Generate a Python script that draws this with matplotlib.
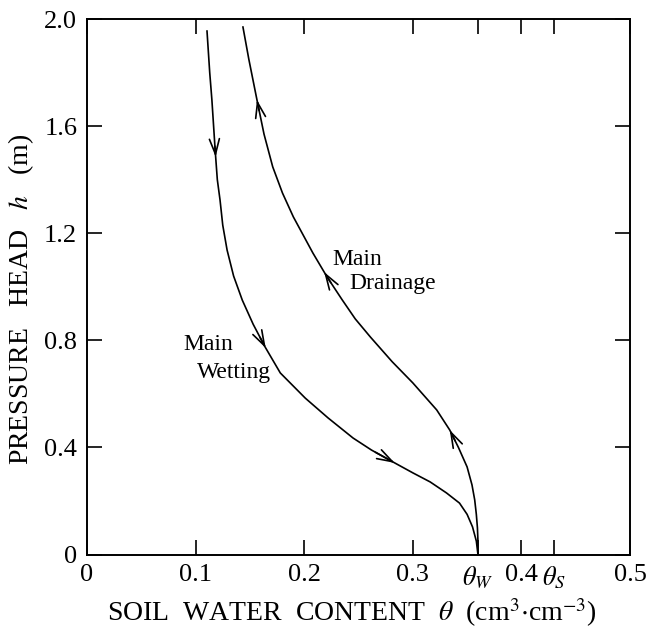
import numpy as np
import matplotlib
matplotlib.use("Agg")
import matplotlib.pyplot as plt

plt.rcParams["font.family"] = ["Liberation Serif", "DejaVu Serif"]
plt.rcParams["mathtext.fontset"] = "stix"

# Main wetting curve: soil water content (cm3/cm3) vs pressure head (m)
wet_theta = [0.1105, 0.113, 0.115, 0.118, 0.120, 0.1225, 0.125, 0.129, 0.135,
             0.143, 0.153, 0.164, 0.178, 0.201, 0.222, 0.245, 0.262, 0.282,
             0.300, 0.316, 0.331, 0.343, 0.350, 0.355, 0.3585, 0.360]
wet_h = [1.955, 1.80, 1.698, 1.511, 1.40, 1.324, 1.23, 1.137, 1.04,
         0.950, 0.86, 0.775, 0.678, 0.584, 0.51, 0.435, 0.39, 0.345,
         0.305, 0.271, 0.23, 0.192, 0.15, 0.103, 0.05, 0.0]

# Main drainage curve
dry_theta = [0.1436, 0.149, 0.1565, 0.163, 0.171, 0.180, 0.190, 0.208, 0.221,
             0.235, 0.247, 0.261, 0.281, 0.300, 0.322, 0.334, 0.342, 0.350,
             0.3545, 0.357, 0.3585, 0.3595, 0.360, 0.360]
dry_h = [1.970, 1.85, 1.698, 1.57, 1.448, 1.35, 1.261, 1.126, 1.037,
         0.951, 0.88, 0.812, 0.72, 0.641, 0.540, 0.465, 0.40, 0.327,
         0.26, 0.204, 0.15, 0.10, 0.05, 0.0]

# Direction markers (pressure head at the arrow tip)
wet_arrow_h = [1.485, 0.771, 0.342]
dry_arrow_h = [1.698, 1.055, 0.465]

theta_w = 0.36
theta_s = 0.43
xtick_vals = [0, 0.1, 0.2, 0.3, theta_w, 0.4, theta_s, 0.5]
xtick_labels = ["0", "0.1", "0.2", "0.3", r"$\theta_W$", "0.4", r"$\theta_S$", "0.5"]
ytick_vals = [0, 0.4, 0.8, 1.2, 1.6, 2.0]
ytick_labels = ["0", "0.4", "0.8", "1.2", "1.6", "2.0"]

fig = plt.figure(figsize=(6.46, 6.31), dpi=100)
ax = fig.add_axes([87 / 646, 1 - 554.5 / 631, 543 / 646, 535.5 / 631])

ax.plot(wet_theta, wet_h, color="black", lw=1.2)
ax.plot(dry_theta, dry_h, color="black", lw=1.2)


def theta_on(curve_theta, curve_h, h):
    order = np.argsort(curve_h)
    return np.interp(h, np.asarray(curve_h)[order], np.asarray(curve_theta)[order])


arrow_kw = dict(arrowstyle="->,head_length=1.1,head_width=0.36",
                color="black", lw=1.2, mutation_scale=10,
                shrinkA=0, shrinkB=0)

# wetting proceeds toward lower suction (downwards)
for h in wet_arrow_h:
    tip = (theta_on(wet_theta, wet_h, h), h)
    tail = (theta_on(wet_theta, wet_h, h + 0.04), h + 0.04)
    ax.annotate("", xy=tip, xytext=tail, arrowprops=arrow_kw)

# drainage proceeds toward higher suction (upwards)
for h in dry_arrow_h:
    tip = (theta_on(dry_theta, dry_h, h), h)
    tail = (theta_on(dry_theta, dry_h, h - 0.04), h - 0.04)
    ax.annotate("", xy=tip, xytext=tail, arrowprops=arrow_kw)

ax.text(0.0884, 0.764, "Main", fontsize=17, va="baseline", ha="left")
ax.text(0.1013, 0.659, "Wetting", fontsize=17, va="baseline", ha="left")
ax.text(0.2256, 1.081, "Main", fontsize=17, va="baseline", ha="left")
ax.text(0.242, 0.99, "Drainage", fontsize=17, va="baseline", ha="left")

ax.set_xlim(0, 0.5)
ax.set_ylim(0, 2.0)
ax.set_xticks(xtick_vals)
ax.set_xticklabels(xtick_labels)
ax.set_yticks(ytick_vals)
ax.set_yticklabels(ytick_labels)
ax.tick_params(direction="in", length=11, width=1.2, labelsize=19,
               top=True, right=True, pad=7)

for s in ax.spines.values():
    s.set_linewidth(1.4)

ax.set_xlabel(r"SOIL  WATER  CONTENT  $\theta$  (cm$^{3}$$\cdot$cm$^{-3}$)",
              fontsize=20)
ax.xaxis.set_label_coords(0.487, -0.079)
ax.xaxis.label.set_va("top")
ax.set_ylabel(r"PRESSURE   HEAD   $h$   (m)", fontsize=20)
ax.yaxis.set_label_coords(-0.094, 0.477)

fig.savefig("out.png", dpi=100)
